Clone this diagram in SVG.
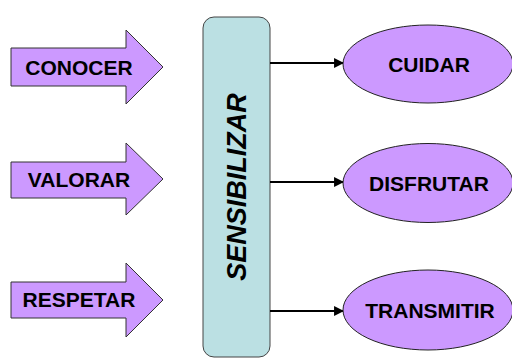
<svg xmlns="http://www.w3.org/2000/svg" width="512" height="358" viewBox="0 0 512 358">
<style>
.arr{fill:#CC99FF;stroke:#333;stroke-width:1}
.ell{fill:#CC99FF;stroke:#222;stroke-width:1}
.lbl{font-family:"Liberation Sans",Arial,sans-serif;font-weight:bold;font-size:21px;fill:#000;text-anchor:middle}
.con{stroke:#000;stroke-width:2.2;fill:none}
</style>
<defs>
<marker id="ah" viewBox="0 0 10 10" refX="9" refY="5" markerWidth="4.5" markerHeight="4.5" orient="auto" markerUnits="strokeWidth">
<path d="M0,0 L10,5 L0,10 z" fill="#000"/>
</marker>
</defs>
<rect width="512" height="358" fill="#fff"/>
<g id="conocer">
<path class="arr" d="M11,48 H126 V30 L163,67 L126,104 V86 H11 Z"/>
<text class="lbl" x="79" y="75">CONOCER</text>
</g>
<g id="valorar">
<path class="arr" d="M11,162 H126 V143 L163,179 L126,215 V198 H11 Z"/>
<text class="lbl" x="79" y="187">VALORAR</text>
</g>
<g id="respetar">
<path class="arr" d="M11,282 H126 V263 L163,300 L126,337 V318 H11 Z"/>
<text class="lbl" x="79" y="307">RESPETAR</text>
</g>
<g id="sensibilizar">
<rect x="203" y="17" width="67" height="340" rx="11" ry="11" fill="#BBE0E3" stroke="#444" stroke-width="1"/>
<text transform="translate(246,187) rotate(-90)" x="0" y="0" font-family="Liberation Sans,Arial,sans-serif" font-weight="bold" font-style="italic" font-size="27" text-anchor="middle" fill="#000">SENSIBILIZAR</text>
</g>
<g id="connectors">
<line class="con" x1="270" y1="63" x2="343" y2="63" marker-end="url(#ah)"/>
<line class="con" x1="270" y1="182" x2="343" y2="182" marker-end="url(#ah)"/>
<line class="con" x1="270" y1="311" x2="343" y2="311" marker-end="url(#ah)"/>
</g>
<g id="cuidar">
<ellipse class="ell" cx="428" cy="64" rx="85" ry="39"/>
<text class="lbl" x="429" y="72">CUIDAR</text>
</g>
<g id="disfrutar">
<ellipse class="ell" cx="428" cy="183" rx="85" ry="39.5"/>
<text class="lbl" x="429" y="191">DISFRUTAR</text>
</g>
<g id="transmitir">
<ellipse class="ell" cx="428" cy="310" rx="85" ry="40"/>
<text class="lbl" x="430" y="318">TRANSMITIR</text>
</g>
</svg>
